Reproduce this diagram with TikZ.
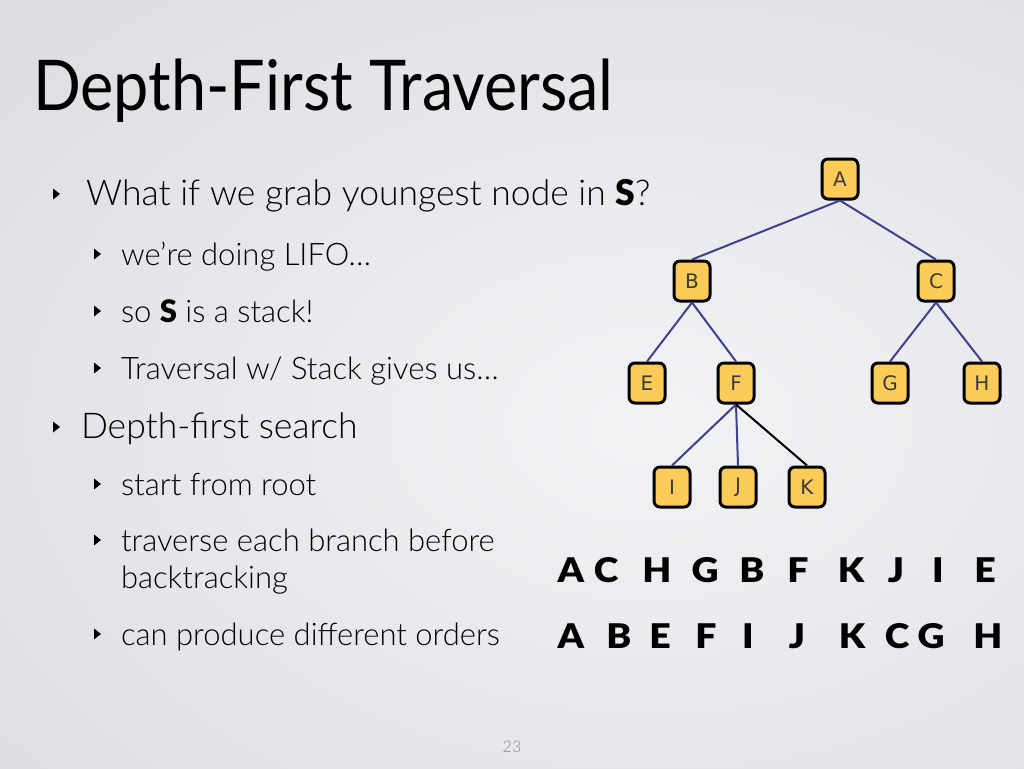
\documentclass[tikz,border=0pt]{standalone}
\usepackage{fontspec}
\setmainfont{Lato Light}[BoldFont={Lato Black}]
\newfontfamily\titlefont{Lato}[FakeStretch=0.9]
\newfontfamily\heavyfont{Lato Black}[FakeStretch=1.1]
\newfontfamily\boxfont{DejaVu Sans}
\newcommand\fsz[1]{\fontsize{#1}{#1}\selectfont}

\definecolor{bgouter}{HTML}{DCDEE2}
\definecolor{bginner}{HTML}{F2F3F5}
\definecolor{boxfill}{HTML}{FDCB57}
\definecolor{boxtext}{HTML}{3A3A3A}
\definecolor{edgeblue}{HTML}{40408F}
\definecolor{pagegray}{HTML}{8A8A8A}

\begin{document}
\begin{tikzpicture}[x=1pt,y=-1pt,
  txt/.style={anchor=base west, inner sep=0pt, outer sep=0pt},
  lvlone/.style={txt, font=\fsz{35.5}},
  lvltwo/.style={txt, font=\fsz{31}},
  treebox/.style={draw=black, line width=3pt, fill=boxfill, rounded corners=6pt,
    minimum width=36pt, minimum height=40pt, inner sep=0pt,
    font=\boxfont\fsz{20}, text=boxtext},
  treeedge/.style={draw=edgeblue, line width=2pt},
  blackedge/.style={draw=black, line width=2pt},
  seqletter/.style={anchor=base, inner sep=0pt, font=\heavyfont\fsz{34}},
  bullet/.style={fill=black}
]
\useasboundingbox (0,0) rectangle (1024,768);

% slide background
\fill[bgouter] (0,0) rectangle (1024,768);
\shade[inner color=bginner, outer color=bgouter] (-200,-150) rectangle (1500,1000);

% title
\node[txt, font=\titlefont\fsz{70}] (title) at (33,110) {Depth-First Traversal};

% bullet markers: level one at x=53, level two at x=94
\foreach \by in {194, 427}
  \fill[bullet] (53,\by-5.5) -- (60,\by) -- (53,\by+5.5) -- cycle;
\foreach \by in {254, 311, 368, 484, 540, 634}
  \fill[bullet] (94,\by-5.5) -- (101,\by) -- (94,\by+5.5) -- cycle;

% bullet texts
\node[lvlone] (q)     at (86,205) {What if we grab youngest node in \textbf{S}?};
\node[lvltwo] (lifo)  at (121,265) {we’re doing LIFO…};
\node[lvltwo] (stack) at (121,322) {so \textbf{S} is a stack!};
\node[lvltwo] (gives) at (121,379) {Traversal w/ Stack gives us…};
\node[lvlone] (dfs)   at (81,438) {Depth-first search};
\node[lvltwo] (root)  at (121,495) {start from root};
\node[lvltwo] (trav)  at (121,551) {traverse each branch before};
\node[lvltwo] (back)  at (121,588) {backtracking};
\node[lvltwo] (order) at (121,645) {can produce different orders};

% tree
\node[treebox] (A) at (840,179) {A};
\node[treebox] (B) at (692,281) {B};
\node[treebox] (C) at (936,281) {C};
\node[treebox] (E) at (647,383) {E};
\node[treebox] (F) at (736,383) {F};
\node[treebox] (G) at (890,383) {G};
\node[treebox] (H) at (982,383) {H};
\node[treebox] (I) at (672,487) {I};
\node[treebox] (J) at (738,487) {J};
\node[treebox] (K) at (807,487) {K};

\draw[treeedge] (A.south) -- (B.north);
\draw[treeedge] (A.south) -- (C.north);
\draw[treeedge] (B.south) -- (E.north);
\draw[treeedge] (B.south) -- (F.north);
\draw[treeedge] (C.south) -- (G.north);
\draw[treeedge] (C.south) -- (H.north);
\draw[treeedge] (F.south) -- (I.north);
\draw[treeedge] (F.south) -- (J.north);
\draw[blackedge] (F.south) -- (K.north);

% visiting orders
\foreach \l/\x [count=\i] in {A/571, C/606, H/657, G/705, B/752, F/798, K/851, J/896, I/938, E/985}
  \node[seqletter] (r1-\i) at (\x,582) {\l};
\foreach \l/\x [count=\i] in {A/571, B/619, E/660, F/706, I/748, J/797, K/852, C/897, G/931, H/988}
  \node[seqletter] (r2-\i) at (\x,648) {\l};

% page number
\node[anchor=base, inner sep=0pt, font=\fsz{16}, text=pagegray] (page) at (512,752) {23};
\end{tikzpicture}
\end{document}
